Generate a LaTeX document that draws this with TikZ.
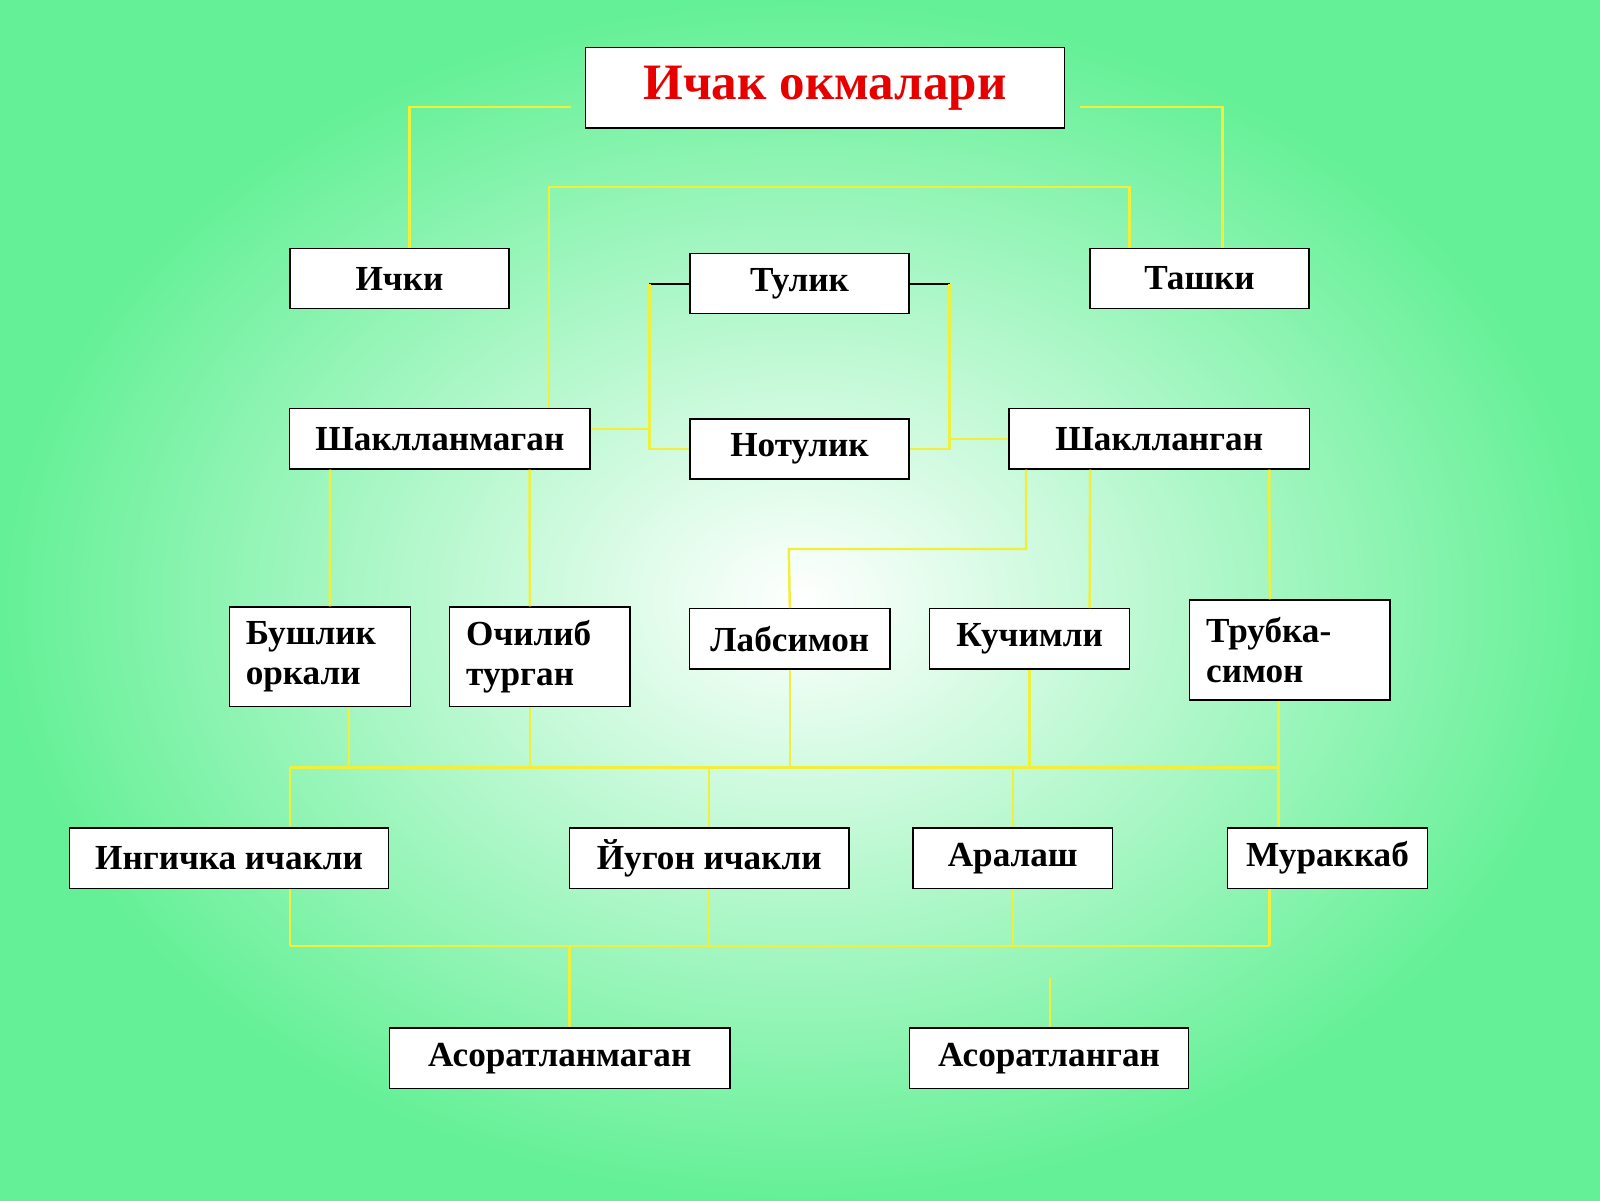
\documentclass[tikz,border=0pt]{standalone}
\usepackage{fontspec}
\setmainfont{Liberation Serif}
\usetikzlibrary{positioning}
\definecolor{bggreen}{RGB}{100,240,150}
\definecolor{linkyellow}{RGB}{240,240,60}
\definecolor{titlered}{RGB}{230,0,0}
\tikzset{
	box/.style={draw=black, thin, fill=white, font=\fontsize{10}{12}\selectfont\bfseries,
		minimum height=0.60cm, inner sep=0pt},
	twoline/.style={box, align=left, text width=#1, inner xsep=0.165cm, minimum height=0.99cm,
		font=\fontsize{10}{11.5}\selectfont\bfseries},
	link/.style={draw=linkyellow, line width=0.7pt},
	stub/.style={draw=black, line width=0.5pt}
}
\begin{document}
\begin{tikzpicture}[x=0.0102cm, y=-0.0102cm]
	% Hintergrund
	\shade[inner color=white, outer color=bggreen] (0,0) rectangle (1568,1176);
	\useasboundingbox (0,0) rectangle (1568,1176);
	% Verbindungen
	\coordinate (tl) at (560,105);
	\coordinate (tr) at (1058,105);
	\coordinate (top) at (538,183);
	\coordinate (busa) at (284,752);
	\coordinate (busb) at (1253,752);
	\coordinate (busc) at (284,927);
	\coordinate (busd) at (1244,927);
	\coordinate (free) at (1029,958);
	% Knoten
	\node[box, minimum width=4.78cm, minimum height=0.80cm, text=titlered,
		font=\fontsize{14.5}{18}\selectfont\bfseries] (title) at (808.5,86) {Ичак окмалари};
	\node[box, minimum width=2.19cm] (ichki) at (391.5,273) {Ички};
	\node[box, minimum width=2.19cm] (tulik) at (783.5,278) {Тулик};
	\node[box, minimum width=2.19cm] (tashki) at (1175.5,273) {Ташки};
	\node[box, minimum width=3.00cm] (shm) at (431,430) {Шаклланмаган};
	\node[box, minimum width=2.19cm] (notulik) at (783.5,440) {Нотулик};
	\node[box, minimum width=3.00cm] (shl) at (1136,430) {Шаклланган};
	\node[twoline=1.48cm] (bushlik) at (313.5,643.5) {Бушлик\\оркали};
	\node[twoline=1.47cm] (ochilib) at (529,643.5) {Очилиб\\турган};
	\node[box, minimum width=2.00cm] (lab) at (774,626) {Лабсимон};
	\node[box, minimum width=2.00cm] (kuch) at (1009,626) {Кучимли};
	\node[twoline=1.67cm, minimum height=1.00cm] (trubka) at (1264,637) {Трубка-\\симон};
	\node[box, minimum width=3.19cm] (ingichka) at (224.5,841) {Ингичка ичакли};
	\node[box, minimum width=2.79cm] (yugon) at (695,841) {Йугон ичакли};
	\node[box, minimum width=1.99cm] (aralash) at (992.5,841) {Аралаш};
	\node[box, minimum width=2.00cm] (murakkab) at (1301,841) {Мураккаб};
	\node[box, minimum width=3.40cm] (asm) at (548.5,1037) {Асоратланмаган};
	\node[box, minimum width=2.79cm] (asl) at (1028,1037) {Асоратланган};
	% obere Ebene
	\draw[link] (tl) -| ([xshift=0.10cm]ichki.north);
	\draw[link] (tr) -| ([xshift=0.23cm]tashki.north);
	\draw[link] (shm.north -| top) |- (top) -| ([xshift=-0.70cm]tashki.north);
	% Tulik / Notulik
	\draw[stub] (tulik.west) -- ++(-39,0) coordinate (ta);
	\draw[stub] (tulik.east) -- ++(39,0) coordinate (tb);
	\draw[link] (ta) |- (notulik.west);
	\draw[link] (tb) |- (notulik.east);
	\draw[link] ([yshift=0.10cm]shm.east) -- ([yshift=0.10cm]shm.east -| ta);
	\draw[link] (shl.west) -- (shl.west -| tb);
	% Shakllanmagan / Shakllangan
	\draw[link] (shm.south -| bushlik.north) ++(10,0) -- ([xshift=0.10cm]bushlik.north);
	\draw[link] (shm.south -| ochilib.north) ++(-10,0) -- ([xshift=-0.10cm]ochilib.north);
	\draw[link] ([xshift=-1.33cm]shl.south) |- (773,538) -- (lab.north);
	\draw[link] ([xshift=-0.69cm]shl.south) -- ([xshift=0.60cm]kuch.north);
	\draw[link] ([xshift=1.10cm]shl.south) -- ([xshift=-0.20cm]trubka.north);
	% mittlerer Bus
	\draw[link] (busa) -- (busb);
	\draw[link] ([xshift=0.29cm]bushlik.south) -- ([xshift=0.29cm]bushlik.south |- busa);
	\draw[link] ([xshift=-0.10cm]ochilib.south) -- ([xshift=-0.10cm]ochilib.south |- busa);
	\draw[link] (lab.south) -- (lab.south |- busa);
	\draw[link] (kuch.south) -- (kuch.south |- busa);
	\draw[link] (busb) -- (busb |- trubka.south);
	\draw[link] (busa) -- (busa |- ingichka.north);
	\draw[link] (yugon.north |- busa) -- (yugon.north);
	\draw[link] (aralash.north |- busa) -- (aralash.north);
	\draw[link] (busb) -- (busb |- murakkab.north);
	% unterer Bus
	\draw[link] (busc) -- (busd);
	\draw[link] (busc) -- (busc |- ingichka.south);
	\draw[link] (yugon.south) -- (yugon.south |- busc);
	\draw[link] (aralash.south) -- (aralash.south |- busc);
	\draw[link] (busd) -- (busd |- murakkab.south);
	\draw[link] ([xshift=0.10cm]asm.north |- busc) -- ([xshift=0.10cm]asm.north);
	\draw[link] (free) -- (free |- asl.north);
\end{tikzpicture}
\end{document}
